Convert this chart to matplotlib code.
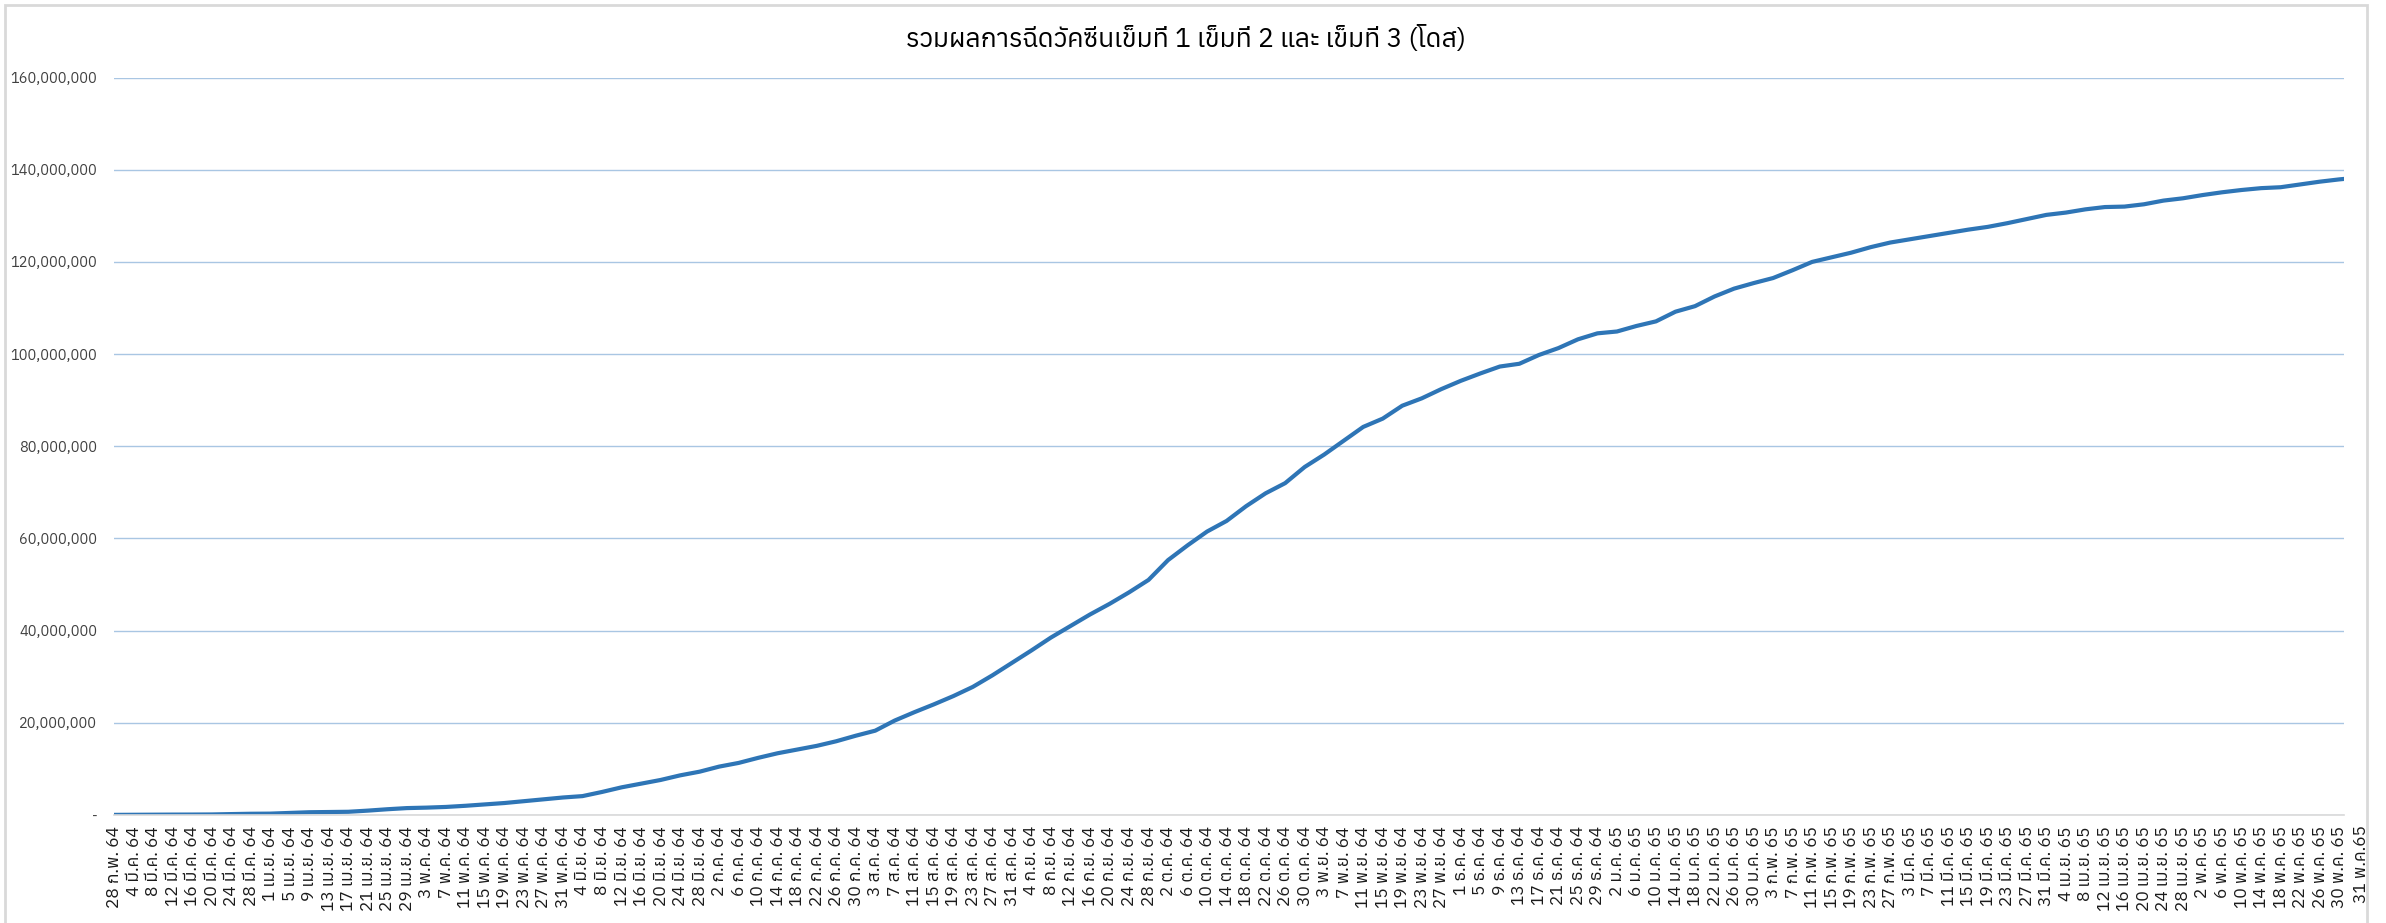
import numpy as np
import pandas as pd
import matplotlib
matplotlib.use('Agg')
import matplotlib.pyplot as plt
from matplotlib import font_manager, ft2font
from matplotlib.patches import Rectangle

# find an installed font that has Thai glyphs
thai_fonts = []
for f in font_manager.fontManager.ttflist:
    try:
        if 0x0E23 in ft2font.FT2Font(f.fname).get_charmap():
            thai_fonts.append(f.name)
    except Exception:
        pass
families = sorted(set(thai_fonts))[:1] + ['DejaVu Sans']
plt.rcParams['font.family'] = families

title = 'รวมผลการฉีดวัคซีนเข็มที่ 1 เข็มที่ 2 และ เข็มที่ 3 (โดส)'
thai_months = ['ม.ค.', 'ก.พ.', 'มี.ค.', 'เม.ย.', 'พ.ค.', 'มิ.ย.',
               'ก.ค.', 'ส.ค.', 'ก.ย.', 'ต.ค.', 'พ.ย.', 'ธ.ค.']

# dates: every 4 days from 28 Feb 2021, plus the last day 31 May 2022
dates = list(pd.date_range('2021-02-28', '2022-05-30', freq='4D')) + [pd.Timestamp('2022-05-31')]

# cumulative doses, millions
doses_m = [
    0.03, 0.05, 0.07, 0.09, 0.10, 0.12, 0.20, 0.27, 0.30, 0.45,
    0.60, 0.65, 0.70, 0.95, 1.25, 1.50, 1.60, 1.75, 2.00, 2.30,
    2.60, 3.00, 3.40, 3.80, 4.10, 5.00, 6.00, 6.80, 7.60, 8.60,
    9.40, 10.5, 11.3, 12.4, 13.4, 14.2, 15.0, 16.0, 17.2, 18.3,
    20.5, 22.3, 24.0, 25.8, 27.8, 30.3, 33.0, 35.7, 38.5, 41.0,
    43.5, 45.8, 48.3, 51.0, 55.3, 58.5, 61.5, 63.8, 67.0, 69.8,
    72.0, 75.5, 78.2, 81.2, 84.2, 86.0, 88.8, 90.4, 92.4, 94.2,
    95.8, 97.3, 97.9, 99.8, 101.3, 103.2, 104.5, 104.9, 106.1, 107.1,
    109.2, 110.4, 112.5, 114.2, 115.4, 116.5, 118.2, 120.0, 121.0, 122.0,
    123.2, 124.2, 124.9, 125.6, 126.3, 127.0, 127.6, 128.4, 129.3, 130.2,
    130.7, 131.4, 131.9, 132.0, 132.5, 133.3, 133.8, 134.5, 135.1, 135.6,
    136.0, 136.2, 136.8, 137.4, 137.9, 138.0,
]
doses = np.array(doses_m) * 1e6

tick_labels = ['%d %s %d' % (d.day, thai_months[d.month - 1], (d.year + 543) % 100) for d in dates]
last_label = '31 พ.ค.65'

fig = plt.figure(figsize=(23.86, 9.23), dpi=100)
ax = fig.add_axes([0.0478, 0.117, 0.9346, 0.799])

ax.plot(dates, doses, color='#2E75B6', linewidth=3, solid_capstyle='round')

ax.set_xlim(dates[0], dates[-1])
ax.set_ylim(0, 160e6)
ax.set_yticks(np.arange(0, 160e6 + 1, 20e6))
ax.set_yticklabels(['-' if v == 0 else '{:,.0f}'.format(v) for v in ax.get_yticks()],
                   fontsize=10.5, color='#404040')
ax.set_xticks(dates[:-1])
ax.set_xticklabels(tick_labels[:-1], rotation=90, fontsize=12.5, color='#1a1a1a', va='top')
ax.tick_params(axis='both', length=0)
ax.tick_params(axis='y', pad=12)
ax.tick_params(axis='x', pad=8)

# the last date label sits a little right of the others
ax.text(dates[-1] + pd.Timedelta(days=3.5), -0.014, last_label, transform=ax.get_xaxis_transform(),
        rotation=90, ha='center', va='top', fontsize=12.5, color='#1a1a1a')

ax.grid(axis='y', color='#A9C6E3', linewidth=1)
ax.set_axisbelow(True)
for side in ['top', 'left', 'right']:
    ax.spines[side].set_visible(False)
ax.spines['bottom'].set_color('#D9D9D9')
ax.spines['bottom'].set_linewidth(1.2)

fig.text(0.497, 0.958, title, ha='center', va='center', fontsize=19, color='#000000')

# chart area frame
fig.patches.append(Rectangle((0.002, -0.01), 0.99, 1.005, transform=fig.transFigure,
                             fill=False, edgecolor='#D9D9D9', linewidth=2))

fig.savefig('out.png', dpi=100)
